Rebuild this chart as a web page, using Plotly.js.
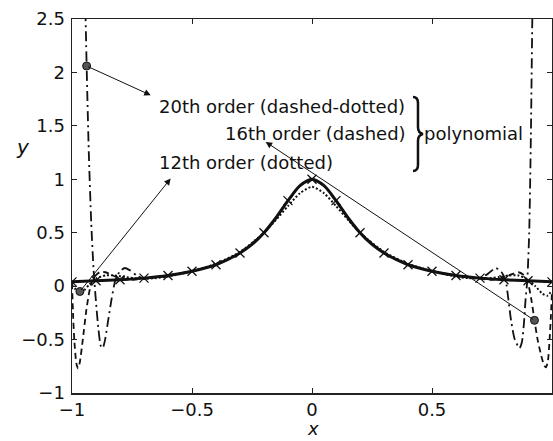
<!DOCTYPE html>
<html><head><meta charset="utf-8">
<script src="https://cdn.plot.ly/plotly-3.0.1.min.js"></script>
<style>html,body{margin:0;padding:0;background:#fff}#chart{width:553px;height:441px}</style>
</head><body><div id="chart"></div>
<script>
// True function (solid)
const trueX = [-1,-0.9,-0.8,-0.7,-0.6,-0.5,-0.4,-0.35,-0.3,-0.25,-0.2,-0.15,-0.1,-0.05,0,0.05,0.1,0.15,0.2,0.25,0.3,0.35,0.4,0.5,0.6,0.7,0.8,0.9,1];
const trueY = [0.04,0.05,0.06,0.075,0.1,0.14,0.2,0.25,0.31,0.39,0.5,0.64,0.8,0.94,1.0,0.94,0.8,0.64,0.5,0.39,0.31,0.25,0.2,0.14,0.1,0.075,0.06,0.05,0.04];
// Sample nodes (+ markers)
const nodeX = [-1,-0.9,-0.8,-0.7,-0.6,-0.5,-0.4,-0.3,-0.2,-0.1,0,0.1,0.2,0.3,0.4,0.5,0.6,0.7,0.8,0.9,1];
const nodeY = [0.04,0.05,0.06,0.075,0.1,0.14,0.2,0.31,0.5,0.8,1.0,0.8,0.5,0.31,0.2,0.14,0.1,0.075,0.06,0.05,0.04];
// 12th order (dotted)
const p12X = [-1,-0.985,-0.967,-0.95,-0.93,-0.9,-0.86,-0.82,-0.78,-0.72,-0.65,-0.6,-0.5,-0.4,-0.3,-0.2,-0.15,-0.1,-0.05,0,0.05,0.1,0.15,0.2,0.3,0.4,0.5,0.6,0.65,0.72,0.78,0.82,0.86,0.9,0.93,0.96,0.98,1];
const p12Y = [0.01,-0.03,-0.06,-0.04,0.01,0.07,0.1,0.1,0.085,0.07,0.075,0.09,0.14,0.21,0.32,0.5,0.62,0.75,0.87,0.93,0.87,0.75,0.62,0.5,0.32,0.21,0.14,0.09,0.075,0.07,0.085,0.1,0.1,0.06,0.0,-0.07,-0.09,-0.04];
// 16th order (dashed)
const p16X = [-1,-0.995,-0.99,-0.982,-0.975,-0.968,-0.955,-0.94,-0.925,-0.91,-0.885,-0.86,-0.83,-0.8,-0.75,-0.7,-0.6,-0.5,-0.4,-0.3,-0.2,-0.15,-0.1,-0.05,0,0.05,0.1,0.15,0.2,0.3,0.4,0.5,0.6,0.7,0.75,0.8,0.83,0.86,0.885,0.9,0.915,0.927,0.94,0.955,0.967,0.975,0.983,0.99,0.995,1];
const p16Y = [0.03,-0.3,-0.52,-0.72,-0.77,-0.72,-0.5,-0.22,-0.02,0.08,0.13,0.13,0.1,0.07,0.06,0.07,0.1,0.14,0.2,0.31,0.5,0.64,0.8,0.94,0.99,0.94,0.8,0.64,0.5,0.31,0.2,0.14,0.1,0.07,0.06,0.08,0.11,0.13,0.1,0.03,-0.14,-0.32,-0.5,-0.65,-0.74,-0.76,-0.7,-0.5,-0.3,-0.05];
// 20th order (dashed-dotted)
const p20X = [-1,-0.96,-0.947,-0.939,-0.93,-0.92,-0.91,-0.9,-0.89,-0.88,-0.872,-0.862,-0.85,-0.835,-0.82,-0.8,-0.78,-0.76,-0.73,-0.7,-0.6,-0.5,-0.4,-0.3,-0.2,-0.15,-0.1,-0.05,0,0.05,0.1,0.15,0.2,0.3,0.4,0.5,0.6,0.7,0.73,0.765,0.79,0.807,0.818,0.83,0.845,0.865,0.875,0.883,0.89,0.897,0.905,0.912,0.918,0.93,1];
const p20Y = [8,4.2,2.9,2.06,1.25,0.6,0.15,-0.15,-0.4,-0.56,-0.58,-0.5,-0.33,-0.12,0.05,0.14,0.17,0.15,0.1,0.07,0.1,0.14,0.2,0.31,0.5,0.64,0.8,0.94,1.0,0.94,0.8,0.64,0.5,0.31,0.2,0.14,0.1,0.08,0.11,0.17,0.13,0.05,-0.12,-0.33,-0.5,-0.58,-0.52,-0.35,-0.12,0.05,0.5,1.4,2.5,4,8];
// Highlighted points
const ptX = [-0.939,-0.967,0.927];
const ptY = [2.06,-0.05,-0.32];
// Labels
const labels = ["20th order (dashed-dotted)","16th order (dashed)","12th order (dotted)"];
const labelX = [-0.123,0.015,-0.273];
const labelY = [1.684,1.432,1.16];
// arrow heads (targets) for each highlighted point
const headX = [-0.672,-0.193,-0.589];
const headY = [1.787,1.35,1.007];
const arrowFrom = [0,2,1];
const xTicks = [-1,-0.5,0,0.5,1];
const yTicks = [-1,-0.5,0,0.5,1,1.5,2,2.5];

const F = "DejaVu Sans, Arial, sans-serif";
const traces = [
  {x:p12X,y:p12Y,mode:'lines',line:{color:'#111',width:2,dash:'2px,2px',shape:'spline',smoothing:0.6},hoverinfo:'skip'},
  {x:p16X,y:p16Y,mode:'lines',line:{color:'#111',width:1.8,dash:'6px,4px',shape:'spline',smoothing:0.6},hoverinfo:'skip'},
  {x:p20X,y:p20Y,mode:'lines',line:{color:'#111',width:1.8,dash:'10px,4px,2px,4px',shape:'spline',smoothing:0.6},hoverinfo:'skip'},
  {x:trueX,y:trueY,mode:'lines',line:{color:'#111',width:3,shape:'spline',smoothing:0.8},hoverinfo:'skip'},
  {x:nodeX,y:nodeY,mode:'markers',marker:{symbol:'x-thin-open',size:9,color:'#111',line:{color:'#111',width:1.3}},hoverinfo:'skip'},
  {x:ptX,y:ptY,mode:'markers',marker:{symbol:'circle',size:8,color:'#555',line:{color:'#111',width:1}},hoverinfo:'skip'}
];

const ann = [];
labels.forEach((t,i)=>ann.push({x:labelX[i],y:labelY[i],xref:'x',yref:'y',text:t,showarrow:false,font:{family:F,size:18,color:'#111'}}));
ann.push({x:0.671,y:1.432,xref:'x',yref:'y',text:'polynomial',showarrow:false,font:{family:F,size:18,color:'#111'}});
headX.forEach((hx,i)=>{const k=arrowFrom[i];ann.push({x:hx,y:headY[i],ax:ptX[k],ay:ptY[k],xref:'x',yref:'y',axref:'x',ayref:'y',text:'',showarrow:true,arrowhead:2,arrowsize:1.3,arrowwidth:1,arrowcolor:'#111',standoff:0,startstandoff:0});});
ann.push({xref:'paper',yref:'paper',x:-0.121,y:0.695,text:'<i>y</i>',showarrow:false,font:{family:F,size:20,color:'#111'}});
ann.push({xref:'paper',yref:'paper',x:0.502,y:-0.094,yanchor:'middle',borderpad:0,text:'<i>x</i>',showarrow:false,font:{family:F,size:18,color:'#111'}});

// brace "}" drawn in pixel space, converted to paper fractions
const L=72,T=19,W=480,H=374;
const px=v=>((v-L)/W).toFixed(4), py=v=>((T+H-v)/H).toFixed(4);
const P=(a,b)=>px(a)+','+py(b);
const bracePath = 'M'+P(413,97)+' Q'+P(418,97)+' '+P(418,103)+' L'+P(418,127)+' Q'+P(418,133)+' '+P(423,134)+' Q'+P(418,135)+' '+P(418,141)+' L'+P(418,165)+' Q'+P(418,171)+' '+P(413,171);

const axisCommon = {showline:true,linecolor:'#222',linewidth:1.5,mirror:'ticks',ticks:'inside',ticklen:5,tickwidth:1,tickcolor:'#222',showgrid:false,zeroline:false,tickfont:{family:F,size:18,color:'#111'}};
const layout = {
  width:553,height:441,margin:{l:72,r:1,t:19,b:48},paper_bgcolor:'#fff',plot_bgcolor:'#fff',showlegend:false,
  xaxis:Object.assign({},axisCommon,{range:[-1,1],tickvals:xTicks,ticktext:xTicks.map(v=>v<0?'\u2212'+Math.abs(v):String(v)),ticklabelstandoff:0}),
  yaxis:Object.assign({},axisCommon,{range:[-1,2.5],tickvals:yTicks,ticktext:yTicks.map(v=>v<0?'\u2212'+Math.abs(v):String(v)),ticklabelstandoff:2}),
  annotations:ann,
  shapes:[{type:'path',xref:'paper',yref:'paper',path:bracePath,line:{color:'#111',width:2.5}}]
};
Plotly.newPlot('chart',traces,layout,{staticPlot:true});
</script></body></html>
